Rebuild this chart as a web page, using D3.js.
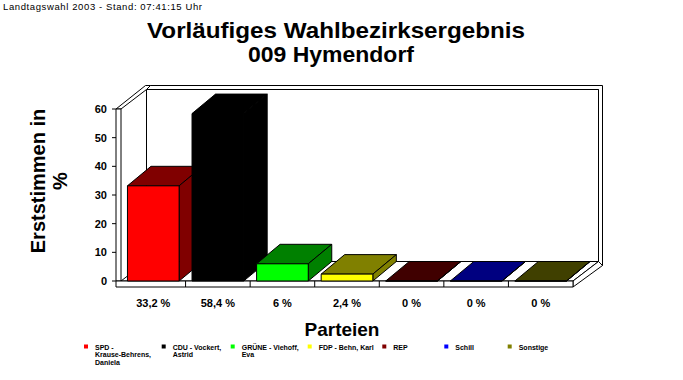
<!DOCTYPE html>
<html><head><meta charset="utf-8">
<script src="https://cdn.jsdelivr.net/npm/d3@7"></script>
<style>
html,body{margin:0;padding:0;background:#fff;}
svg{display:block;font-family:"Liberation Sans",Arial,sans-serif;}
</style></head>
<body>
<svg id="c" width="683" height="380"></svg>
<script>
// ---- data ----
const categories = ["SPD - Krause-Behrens, Daniela", "CDU - Vockert, Astrid", "GRÜNE - Viehoff, Eva", "FDP - Behn, Karl", "REP", "Schill", "Sonstige"];
const values = [33.2, 58.4, 6, 2.4, 0, 0, 0];
const valueLabels = ["33,2 %", "58,4 %", "6 %", "2,4 %", "0 %", "0 %", "0 %"];
const legendLines = [["SPD -", "Krause-Behrens,", "Daniela"], ["CDU - Vockert,", "Astrid"], ["GRÜNE - Viehoff,", "Eva"], ["FDP - Behn, Karl"], ["REP"], ["Schill"], ["Sonstige"]];
const frontColors = ["#ff0000", "#000000", "#00ff00", "#ffff00", "#800000", "#0000ff", "#808000"];
const shadeColors = ["#800000", "#000000", "#008000", "#808000", "#400000", "#000080", "#404000"];
const yTicks = [0, 10, 20, 30, 40, 50, 60];
const titleLines = ["Vorläufiges Wahlbezirksergebnis", "009 Hymendorf"];
const header = "Landtagswahl 2003 - Stand: 07:41:15 Uhr";
const yTitleLines = ["Erststimmen in", "%"];
const xTitle = "Parteien";

// ---- layout ----
const svg = d3.select("#c");
const x = d3.scaleBand().domain(categories).range([121, 573]).paddingInner(0.2).paddingOuter(0.1);
const y = d3.scaleLinear().domain([0, 60]).range([281, 109]);
const WD = [25.5, -19.5];   // wall depth
const BD = [23.5, -19.5];   // bar depth
const y0 = y(0), yTop = y(60);
const xL = 121, xR = 573, xOuter = 116, floorBottom = 287;
const legendX = [84, 161.7, 230.7, 307.7, 382.3, 444.3, 507.7];
const titleWidths = [378, 166];

const poly = pts => "M" + pts.map(p => p.join(",")).join("L") + "Z";
const g = svg.append("g").attr("stroke", "#000").attr("stroke-width", 1).attr("stroke-linejoin", "miter");

// back wall thickness
g.append("path").attr("fill", "#fff").attr("d", poly([
  [xL + WD[0], yTop + WD[1]], [xL + WD[0] + 4, yTop + WD[1] - 4], [xR + WD[0] + 4, yTop + WD[1] - 4],
  [xR + WD[0] + 4, y0 + WD[1] + 4], [xR + WD[0], y0 + WD[1]], [xR + WD[0], yTop + WD[1]]
]));
// back wall front face
g.append("path").attr("fill", "#fff").attr("d", poly([
  [xL + WD[0], yTop + WD[1]], [xR + WD[0], yTop + WD[1]], [xR + WD[0], y0 + WD[1]], [xL + WD[0], y0 + WD[1]]
]));
// left wall top
g.append("path").attr("fill", "#fff").attr("d", poly([
  [xOuter, yTop], [xOuter + WD[0] + 4, yTop + WD[1] - 4], [xL + WD[0] + 4, yTop + WD[1] - 4], [xL + WD[0], yTop + WD[1]], [xL, yTop]
]));
// left wall front face
g.append("path").attr("fill", "#fff").attr("d", poly([[xOuter, yTop], [xL, yTop], [xL, y0], [xOuter, y0]]));
// floor top
g.append("path").attr("fill", "#fff").attr("d", poly([[xL, y0], [xR, y0], [xR + WD[0], y0 + WD[1]], [xL + WD[0], y0 + WD[1]]]));
// floor right face
g.append("path").attr("fill", "#fff").attr("d", poly([[xR, y0], [xR + WD[0], y0 + WD[1]], [xR + WD[0] + 4, y0 + WD[1] + 4], [xR, floorBottom]]));
// floor front face
g.append("path").attr("fill", "#fff").attr("d", poly([[xOuter, y0], [xR, y0], [xR, floorBottom], [xOuter, floorBottom]]));
// floor ticks at category boundaries
categories.slice(1).forEach(c => {
  const bx = x(c) - x.step() * x.paddingInner() / 2;
  g.append("line").attr("x1", bx).attr("x2", bx).attr("y1", y0).attr("y2", floorBottom);
});

// y ticks
yTicks.forEach(t => {
  g.append("line").attr("x1", 112).attr("x2", xOuter).attr("y1", y(t)).attr("y2", y(t));
});
svg.append("g").selectAll("text").data(yTicks).join("text")
  .attr("x", 107).attr("y", d => y(d)).attr("dy", "0.36em")
  .attr("text-anchor", "end").attr("font-size", 11).attr("font-weight", "bold").text(d => d);

// bars
const bars = svg.append("g").attr("stroke", "#000").attr("stroke-width", 1);
categories.forEach((c, i) => {
  const x0 = x(c), w = x.bandwidth(), yt = y(values[i]);
  const gb = bars.append("g");
  gb.append("path").attr("fill", shadeColors[i]).attr("d", poly([[x0, yt], [x0 + w, yt], [x0 + w + BD[0], yt + BD[1]], [x0 + BD[0], yt + BD[1]]]));
  gb.append("path").attr("fill", shadeColors[i]).attr("d", poly([[x0 + w, yt], [x0 + w + BD[0], yt + BD[1]], [x0 + w + BD[0], y0 + BD[1]], [x0 + w, y0]]));
  gb.append("path").attr("fill", frontColors[i]).attr("d", poly([[x0, yt], [x0 + w, yt], [x0 + w, y0], [x0, y0]]));
});

// value labels
svg.append("g").selectAll("text").data(categories).join("text")
  .attr("x", d => x(d) + x.bandwidth() / 2).attr("y", 307)
  .attr("text-anchor", "middle").attr("font-size", 11).attr("font-weight", "bold")
  .text((d, i) => valueLabels[i]);

// titles
svg.append("text").attr("x", 3).attr("y", 10).attr("font-size", 9.5).attr("textLength", 199).text(header);
svg.append("g").selectAll("text").data(titleLines).join("text")
  .attr("x", (d, i) => i === 0 ? 147 : 248).attr("y", (d, i) => 38 + i * 23.5)
  .attr("font-size", 22).attr("font-weight", "bold")
  .attr("textLength", (d, i) => titleWidths[i]).attr("lengthAdjust", "spacingAndGlyphs").text(d => d);
svg.append("g").selectAll("text").data(yTitleLines).join("text")
  .attr("transform", (d, i) => `translate(${45 + i * 22},181) rotate(-90)`)
  .attr("text-anchor", "middle").attr("font-size", 20).attr("font-weight", "bold").text(d => d);
svg.append("text").attr("x", 342).attr("y", 336).attr("text-anchor", "middle")
  .attr("font-size", 19).attr("font-weight", "bold").text(xTitle);

// legend
const lg = svg.append("g");
categories.forEach((c, i) => {
  lg.append("rect").attr("x", legendX[i]).attr("y", 344.5).attr("width", 4).attr("height", 4).attr("fill", frontColors[i]);
  lg.append("text").attr("x", legendX[i] + 11).attr("font-size", 7).attr("font-weight", "bold")
    .selectAll("tspan").data(legendLines[i]).join("tspan")
    .attr("x", legendX[i] + 11).attr("y", (d, k) => 349.5 + k * 7.6).text(d => d);
});
</script>
</body></html>
